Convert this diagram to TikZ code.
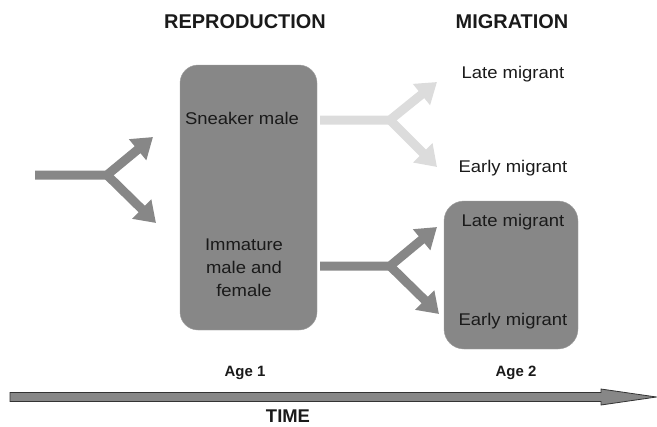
\documentclass[tikz,border=0pt]{standalone}
\usepackage{fontspec}
\setmainfont{Liberation Sans}
\usepackage{tikz}
\usetikzlibrary{arrows.meta, positioning, calc}
\usepackage[svgnames]{xcolor}

\definecolor{boxgray}{HTML}{878787}
\definecolor{fadegray}{HTML}{DCDCDC}
\definecolor{textgray}{HTML}{1A1A1A}

\tikzset{
    title/.style={font=\fontsize{20}{24}\selectfont\bfseries, text=textgray},
    agelabel/.style={font=\fontsize{15}{18}\selectfont\bfseries, text=textgray},
    txt/.style={font=\fontsize{17}{23}\selectfont, text=textgray, align=center, xscale=1.09},
    stagebox/.style={fill=boxgray, draw=boxgray!80, rounded corners=18bp, inner sep=0pt},
    fork/.style={line width=9bp, -{Triangle[width=26bp,length=20bp]}},
}

\begin{document}
\begin{tikzpicture}[x=1bp, y=-1bp]
    \useasboundingbox (0,0) rectangle (657,426);

    % Headings
    \node[title] (repro) at (245,22) {REPRODUCTION};
    \node[title] (migr) at (512,22) {MIGRATION};

    % Age 1 box
    \node[stagebox, minimum width=137bp, minimum height=265bp] (age1box) at (248.5,197.5) {};
    \node[txt] (sneaker) at (242,118) {Sneaker male};
    \node[txt] (immature) at (244,268) {Immature\\male and\\female};

    % Age 2 box
    \node[stagebox, minimum width=134bp, minimum height=148bp, rounded corners=20bp] (age2box) at (511,275) {};
    \node[txt] (latelow) at (513,222) {Late migrant};
    \node[txt] (earlylow) at (513,321) {Early migrant};

    % Migrants above the box
    \node[txt] (latetop) at (513,74) {Late migrant};
    \node[txt] (earlytop) at (513,168) {Early migrant};

    % Fork into age 1
    \coordinate (in) at (35,175);
    \coordinate (infork) at (107,175);
    \coordinate (intop) at (153,137);
    \coordinate (inbot) at (156,223);
    \draw[fork, boxgray] (in) -- (infork) -- (intop);
    \draw[fork, boxgray] (infork) -- (inbot);

    % Fork from sneaker males (faded)
    \coordinate (snk) at (320,120);
    \coordinate (snkfork) at (390,120);
    \coordinate (snktop) at (437,82);
    \coordinate (snkbot) at (437,167);
    \draw[fork, fadegray] (snk) -- (snkfork) -- (snktop);
    \draw[fork, fadegray] (snkfork) -- (snkbot);

    % Fork from immatures
    \coordinate (imm) at (320,266);
    \coordinate (immfork) at (390,266);
    \coordinate (immtop) at (437,227);
    \coordinate (immbot) at (439,314);
    \draw[fork, boxgray] (imm) -- (immfork) -- (immtop);
    \draw[fork, boxgray] (immfork) -- (immbot);

    % Time axis
    \node[agelabel] (age1) at (245,373) {Age 1};
    \node[agelabel] (age2) at (516,373) {Age 2};
    \draw[fill=boxgray, draw=black!80, line width=0.8bp]
        (10,392.5) -- (601,392.5) -- (601,389) -- (656.5,397) -- (601,405) -- (601,401.5) -- (10,401.5) -- cycle;
    \node[title, font=\fontsize{18.5}{22}\selectfont\bfseries] (time) at (288,416) {TIME};
\end{tikzpicture}
\end{document}
